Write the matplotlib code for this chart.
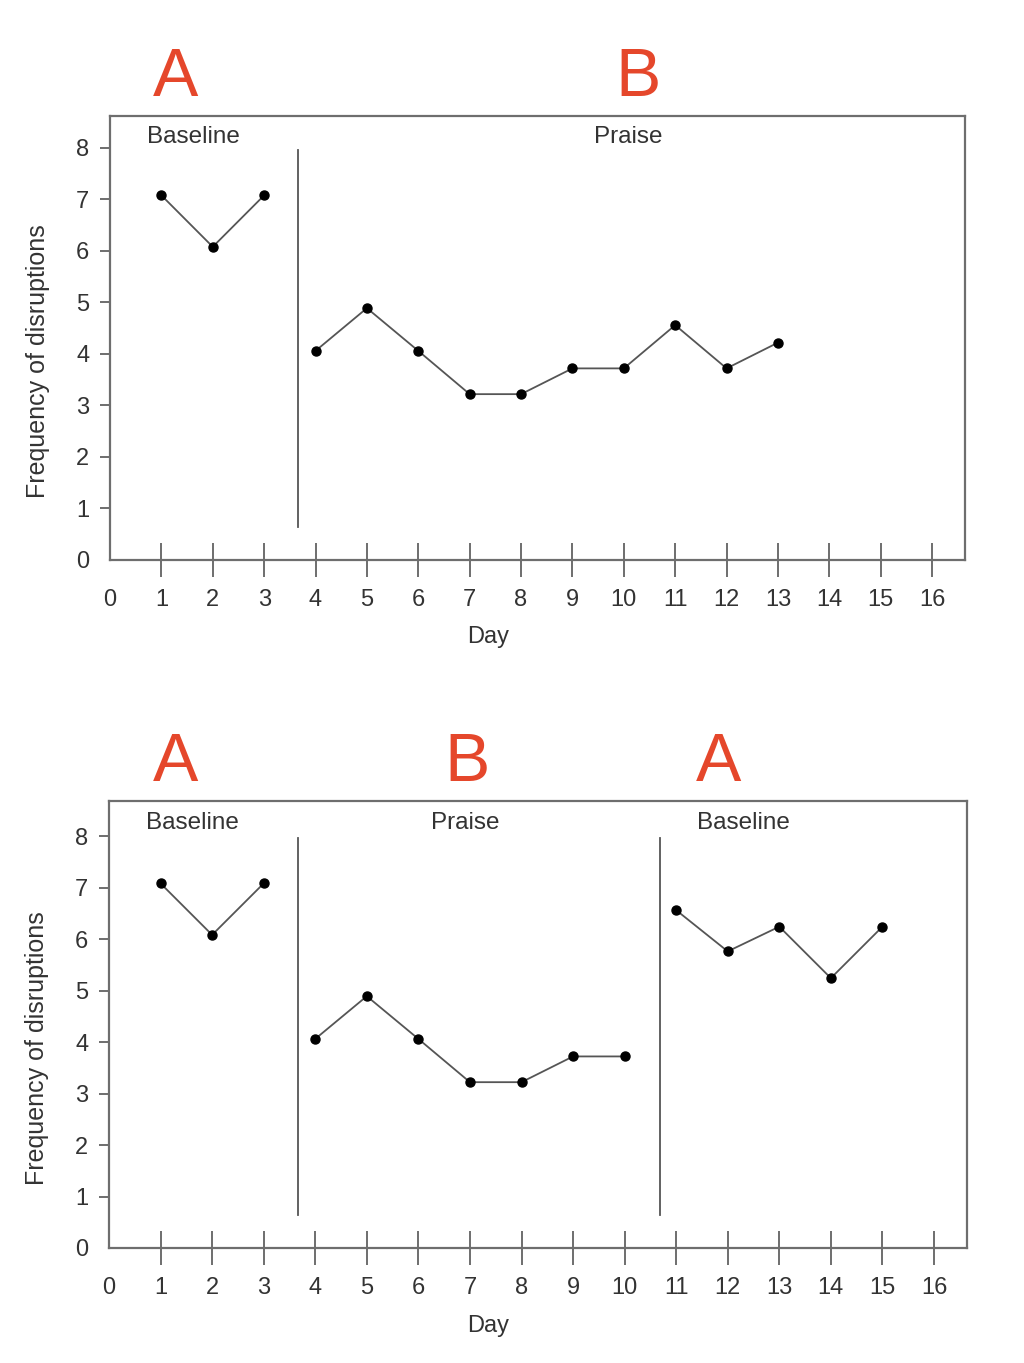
import matplotlib
matplotlib.use("Agg")
import matplotlib.pyplot as plt

plt.rcParams['font.family'] = ['Liberation Sans', 'DejaVu Sans']

# ---- data ----
days_baseline1 = [1, 2, 3]
freq_baseline1 = [7.08, 6.08, 7.08]

days_praise_top = [4, 5, 6, 7, 8, 9, 10, 11, 12, 13]
freq_praise_top = [4.06, 4.89, 4.06, 3.22, 3.22, 3.72, 3.72, 4.56, 3.72, 4.22]

days_praise_bot = [4, 5, 6, 7, 8, 9, 10]
freq_praise_bot = [4.06, 4.89, 4.06, 3.22, 3.22, 3.72, 3.72]

days_baseline2 = [11, 12, 13, 14, 15]
freq_baseline2 = [6.56, 5.76, 6.24, 5.24, 6.24]

x_ticks = list(range(0, 17))
y_ticks = list(range(0, 9))

phase_change_top = [3.66]
phase_change_bot = [3.66, 10.68]

TEXT = '#333333'
SPINE = '#6e6e6e'
LINE = '#555555'
RED = '#e5472b'

fig = plt.figure(figsize=(10.24, 13.63), dpi=100)
ax1 = fig.add_axes([110/1024, 1 - 560/1363, 855/1024, 444/1363])
ax2 = fig.add_axes([109/1024, 1 - 1248/1363, 858/1024, 447/1363])


def style(ax, ymax):
    ax.set_xlim(0, 16.64)
    ax.set_ylim(0, ymax)
    for s in ax.spines.values():
        s.set_color(SPINE)
        s.set_linewidth(1.6)
    ax.set_xticks(x_ticks)
    ax.set_yticks(y_ticks)
    ax.set_xticklabels([str(v) for v in x_ticks])
    ax.set_yticklabels([str(v) for v in y_ticks])
    ax.tick_params(axis='x', direction='inout', length=24, width=1.4,
                   color=SPINE, pad=9, labelsize=17, labelcolor=TEXT)
    ax.tick_params(axis='y', direction='out', length=7, width=1.4,
                   color=SPINE, pad=8, labelsize=17, labelcolor=TEXT)
    ax.xaxis.get_major_ticks()[0].tick1line.set_visible(False)
    ax.yaxis.get_major_ticks()[0].tick1line.set_visible(False)
    ax.text(0.442, -0.174, 'Day', transform=ax.transAxes, ha='center',
            va='center', fontsize=17, color=TEXT)
    ax.text(-0.084, 0.448, 'Frequency of disruptions', transform=ax.transAxes,
            ha='center', va='center', rotation=90, fontsize=18, color=TEXT)


def series(ax, x, y):
    ax.plot(x, y, color=LINE, lw=1.3, marker='o', markersize=6.5,
            markerfacecolor='black', markeredgecolor='black', clip_on=False)


# ---- top panel: A B ----
style(ax1, 8.62)
series(ax1, days_baseline1, freq_baseline1)
series(ax1, days_praise_top, freq_praise_top)
for xp in phase_change_top:
    ax1.plot([xp, xp], [0.64, 7.96], color=LINE, lw=1.3)
ax1.text(1.62, 8.21, 'Baseline', ha='center', va='center', fontsize=17.5, color=TEXT)
ax1.text(10.08, 8.21, 'Praise', ha='center', va='center', fontsize=17.5, color=TEXT)
ax1.text(1.28, 9.36, 'A', ha='center', va='center', fontsize=49, color=RED, clip_on=False)
ax1.text(10.27, 9.36, 'B', ha='center', va='center', fontsize=49, color=RED, clip_on=False)

# ---- bottom panel: A B A ----
style(ax2, 8.68)
series(ax2, days_baseline1, freq_baseline1)
series(ax2, days_praise_bot, freq_praise_bot)
series(ax2, days_baseline2, freq_baseline2)
for xp in phase_change_bot:
    ax2.plot([xp, xp], [0.64, 7.96], color=LINE, lw=1.3)
ax2.text(1.61, 8.25, 'Baseline', ha='center', va='center', fontsize=17.5, color=TEXT)
ax2.text(6.91, 8.25, 'Praise', ha='center', va='center', fontsize=17.5, color=TEXT)
ax2.text(12.31, 8.25, 'Baseline', ha='center', va='center', fontsize=17.5, color=TEXT)
ax2.text(1.3, 9.42, 'A', ha='center', va='center', fontsize=49, color=RED, clip_on=False)
ax2.text(6.95, 9.42, 'B', ha='center', va='center', fontsize=49, color=RED, clip_on=False)
ax2.text(11.83, 9.42, 'A', ha='center', va='center', fontsize=49, color=RED, clip_on=False)

fig.savefig('out.png', dpi=100)
